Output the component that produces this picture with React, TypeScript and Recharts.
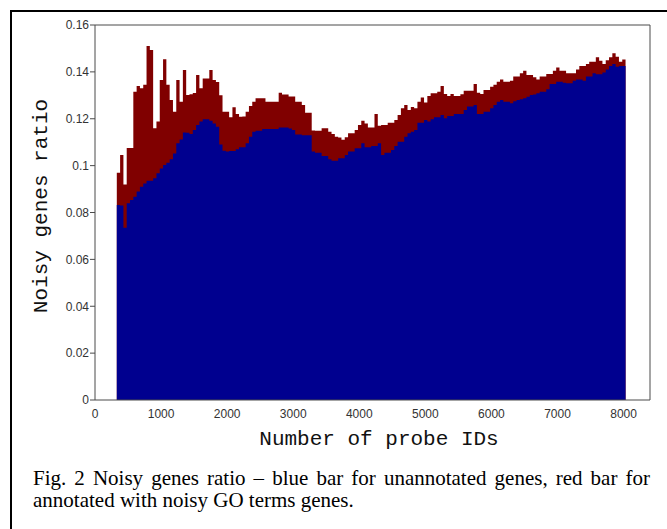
import React from 'react';
import { ComposedChart, Area, XAxis, YAxis } from 'recharts';

// probe ID bins: first bin starts at 330, each bin is 50 probes wide
const binStart = 330;
const binWidth = 50;

// top of the red bar = ratio incl. genes annotated with noisy GO terms
const totalRatio = [
  0.097, 0.1045, 0.092, 0.1075, 0.1075, 0.1315, 0.134, 0.133, 0.1345, 0.151,
  0.1493, 0.116, 0.1188, 0.1365, 0.1454, 0.1345, 0.128, 0.123, 0.1365, 0.1273,
  0.1408, 0.1301, 0.1305, 0.131, 0.1387, 0.133, 0.1372, 0.1372, 0.1408, 0.1365,
  0.1357, 0.13, 0.123, 0.123, 0.1206, 0.1249, 0.122, 0.1209, 0.121, 0.123,
  0.1254, 0.1273, 0.1287, 0.1287, 0.1287, 0.1273, 0.1273, 0.1273, 0.1273, 0.1311,
  0.1304, 0.1304, 0.1295, 0.1295, 0.1273, 0.1273, 0.1259, 0.1226, 0.1226, 0.115,
  0.1149, 0.1149, 0.116, 0.1159, 0.1145, 0.1135, 0.1123, 0.112, 0.111, 0.1121,
  0.1138, 0.1138, 0.1152, 0.1173, 0.1192, 0.118, 0.1163, 0.1163, 0.122, 0.117,
  0.1173, 0.1173, 0.1183, 0.1183, 0.1195, 0.1216, 0.1245, 0.1259, 0.1237, 0.125,
  0.1245, 0.1273, 0.1291, 0.1269, 0.1297, 0.1309, 0.1309, 0.1315, 0.134, 0.1306,
  0.1297, 0.1306, 0.1297, 0.1297, 0.1305, 0.132, 0.132, 0.132, 0.1348, 0.1311,
  0.1306, 0.1323, 0.1323, 0.1337, 0.1345, 0.1358, 0.1368, 0.1358, 0.1358, 0.1362,
  0.138, 0.138, 0.1394, 0.1405, 0.1387, 0.1387, 0.1377, 0.1368, 0.138, 0.138,
  0.1391, 0.1391, 0.1405, 0.1419, 0.1405, 0.1405, 0.1394, 0.1394, 0.1394, 0.141,
  0.1425, 0.1425, 0.1434, 0.1443, 0.1443, 0.1462, 0.1448, 0.1434, 0.145, 0.1462,
  0.1479, 0.1465, 0.1443, 0.1453,
];

// top of the blue bar = unannotated genes
const unannotatedRatio = [
  0.0832, 0.083, 0.0735, 0.084, 0.0853, 0.0867, 0.089, 0.091, 0.0924, 0.0936,
  0.0936, 0.0946, 0.0967, 0.0988, 0.1003, 0.1012, 0.1027, 0.1052, 0.1095, 0.1112,
  0.1141, 0.114, 0.1135, 0.1152, 0.1173, 0.1188, 0.1198, 0.1198, 0.1192, 0.118,
  0.1166, 0.109, 0.1064, 0.106, 0.1062, 0.1062, 0.107, 0.1078, 0.1078, 0.1095,
  0.1123, 0.1145, 0.1149, 0.1149, 0.1156, 0.1156, 0.1156, 0.1156, 0.1156, 0.1163,
  0.1163, 0.1163, 0.1158, 0.1152, 0.1133, 0.1133, 0.113, 0.113, 0.113, 0.106,
  0.1055, 0.1055, 0.1041, 0.1041, 0.1027, 0.1021, 0.1021, 0.1031, 0.1031, 0.1045,
  0.106, 0.106, 0.1074, 0.1074, 0.1095, 0.1078, 0.1078, 0.1084, 0.1084, 0.1095,
  0.1045, 0.1055, 0.1055, 0.1067, 0.1084, 0.1102, 0.1102, 0.1123, 0.1138, 0.1145,
  0.1152, 0.1183, 0.1183, 0.1195, 0.1188, 0.1198, 0.1206, 0.1206, 0.1216, 0.1202,
  0.1212, 0.1212, 0.122, 0.122, 0.122, 0.1237, 0.1252, 0.1252, 0.1259, 0.122,
  0.122, 0.123, 0.123, 0.1245, 0.1259, 0.1273, 0.128, 0.1273, 0.1273, 0.1266,
  0.1275, 0.128, 0.1283, 0.1288, 0.1294, 0.1301, 0.1303, 0.1309, 0.1315, 0.1315,
  0.1326, 0.1348, 0.1348, 0.1358, 0.1358, 0.1354, 0.1351, 0.1351, 0.1362, 0.1368,
  0.1368, 0.1362, 0.138, 0.138, 0.1394, 0.139, 0.139, 0.1397, 0.141, 0.1425,
  0.1434, 0.1422, 0.1425, 0.1425,
];

const xTicks = [0, 1000, 2000, 3000, 4000, 5000, 6000, 7000, 8000];
const yTicks = [0, 0.02, 0.04, 0.06, 0.08, 0.1, 0.12, 0.14, 0.16];

const data = totalRatio.map((t, i) => ({
  probe: binStart + i * binWidth,
  total: t,
  blue: unannotatedRatio[i],
}));
// extra point so the last step gets its full width
data.push({
  probe: binStart + totalRatio.length * binWidth,
  total: totalRatio[totalRatio.length - 1],
  blue: unannotatedRatio[unannotatedRatio.length - 1],
});

const axisColor = '#4a4a4a';
const tickStyle = { fill: '#333', fontSize: 12, fontFamily: 'Liberation Sans, Arial, sans-serif' };
const monoFont = '"Liberation Mono", "Courier New", monospace';

const fmt = (v: number) => String(parseFloat(v.toFixed(2)));

export default function App() {
  return (
    <div style={{ position: 'fixed', left: 0, top: 0, width: 667, height: 529, overflow: 'hidden', background: '#fff' }}>
      <div style={{ position: 'absolute', left: 10, top: 10, width: 700, height: 600, border: '2px solid #000' }} />
      <div style={{ position: 'absolute', left: 0, top: 0 }}>
        <ComposedChart width={667} height={529} data={data} margin={{ top: 24, right: 16, bottom: 99, left: 35 }}>
          <XAxis
            xAxisId="bottom"
            dataKey="probe"
            type="number"
            domain={[0, 8400]}
            ticks={xTicks}
            height={30}
            stroke={axisColor}
            tickLine={false}
            tickSize={0}
            tickMargin={9}
            tick={tickStyle}
          />
          {/* frame: top and right axes with ticks pointing inward */}
          <XAxis
            xAxisId="top"
            orientation="top"
            dataKey="probe"
            type="number"
            domain={[0, 8400]}
            ticks={xTicks}
            height={1}
            tick={false}
            tickSize={-5}
            stroke={axisColor}
          />
          <YAxis
            yAxisId="left"
            type="number"
            domain={[0, 0.16]}
            ticks={yTicks}
            width={60}
            tickSize={5}
            tickMargin={1}
            stroke={axisColor}
            tick={tickStyle}
            tickFormatter={fmt}
          />
          <YAxis
            yAxisId="right"
            orientation="right"
            type="number"
            domain={[0, 0.16]}
            ticks={yTicks}
            width={1}
            tick={false}
            tickSize={-5}
            stroke={axisColor}
          />
          <Area
            xAxisId="bottom"
            yAxisId="left"
            type="stepAfter"
            dataKey="total"
            fill="#800000"
            fillOpacity={1}
            stroke="none"
            dot={false}
            activeDot={false}
            isAnimationActive={false}
          />
          <Area
            xAxisId="bottom"
            yAxisId="left"
            type="stepAfter"
            dataKey="blue"
            fill="#00008f"
            fillOpacity={1}
            stroke="none"
            dot={false}
            activeDot={false}
            isAnimationActive={false}
          />
          {/* invisible copy bound to the frame axes */}
          <Area
            xAxisId="top"
            yAxisId="right"
            type="stepAfter"
            dataKey="blue"
            fill="none"
            fillOpacity={0}
            stroke="none"
            dot={false}
            activeDot={false}
            isAnimationActive={false}
          />
        </ComposedChart>
      </div>
      <div
        style={{
          position: 'absolute', left: 41, top: 206, transform: 'translate(-50%, -50%) rotate(-90deg)',
          fontFamily: monoFont, fontSize: 21, lineHeight: '21px', whiteSpace: 'nowrap', color: '#111',
        }}
      >
        Noisy genes ratio
      </div>
      <div
        style={{
          position: 'absolute', left: 379, top: 429, transform: 'translateX(-50%)',
          fontFamily: monoFont, fontSize: 21, lineHeight: '21px', whiteSpace: 'nowrap', color: '#111',
        }}
      >
        Number of probe IDs
      </div>
      <div
        style={{
          position: 'absolute', left: 33, top: 467, width: 617,
          fontFamily: '"Liberation Serif", "Times New Roman", serif', fontSize: 21, lineHeight: '22px',
          textAlign: 'justify', color: '#000',
        }}
      >
        Fig. 2 Noisy genes ratio – blue bar for unannotated genes, red bar for annotated with noisy GO terms genes.
      </div>
    </div>
  );
}
